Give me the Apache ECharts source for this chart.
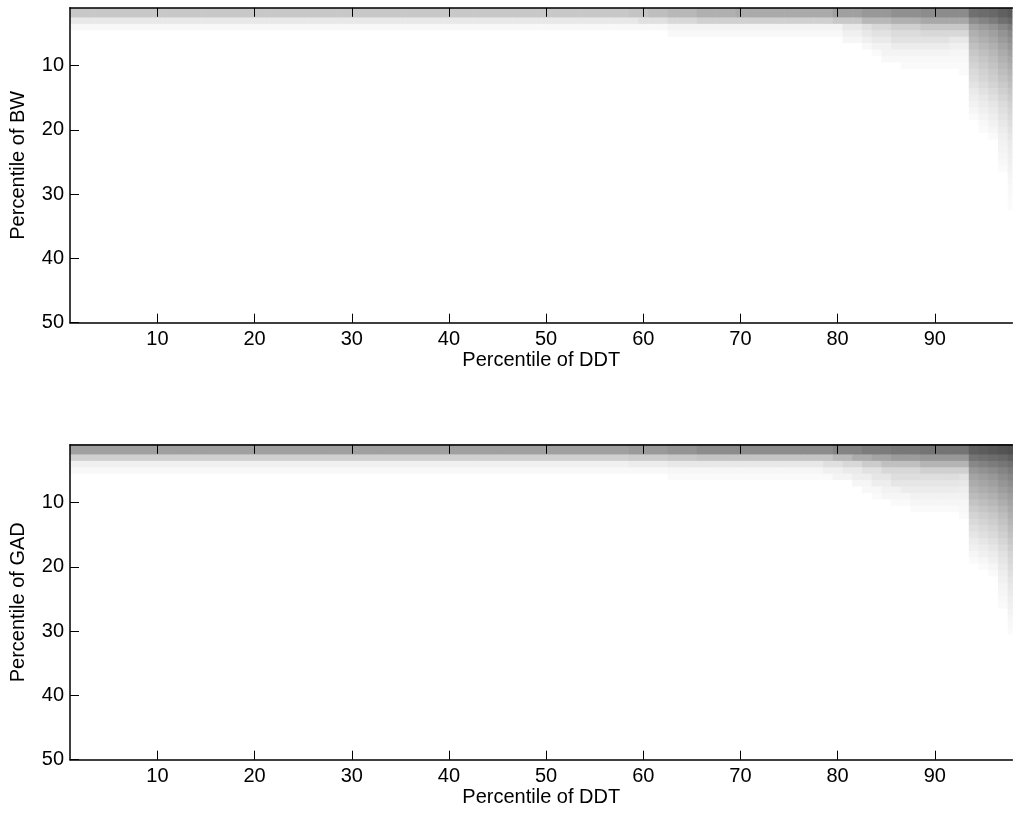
<!DOCTYPE html>
<html><head><meta charset="utf-8">
<script src="https://cdn.jsdelivr.net/npm/echarts@6/dist/echarts.min.js"></script>
<style>html,body{margin:0;padding:0;background:#fff}#c{width:1013px;height:815px}</style>
</head><body><div id="c"></div>
<script>
// axis layout data
const xTicks = [10, 20, 30, 40, 50, 60, 70, 80, 90];
const yTicks = [10, 20, 30, 40, 50];
const xCount = 98;   // percentile of DDT, 1..98
const yCount = 50;   // percentile of BW / GAD, 1..50
const xName = 'Percentile of DDT';
const yNames = ['Percentile of BW', 'Percentile of GAD'];

// gray level per cell (255 = white). Blocks: [rowFrom, rowTo, colFrom, colTo, gray]
const bwBlocks = [
  [1,2,1,58,200],[1,2,59,60,196],[1,2,61,62,190],[1,2,63,65,184],[1,2,66,69,176],[1,2,70,79,170],[1,2,80,82,160],[1,2,83,85,152],[1,2,86,88,144],[1,2,89,93,140],
  [3,3,1,59,232],[3,3,60,62,224],[3,3,63,65,216],[3,3,66,79,208],[3,3,80,82,200],[3,3,83,85,184],[3,3,86,88,176],[3,3,89,93,168],
  [4,4,1,62,248],[4,4,63,80,243],[4,4,81,82,232],[4,4,83,83,224],[4,4,84,85,216],[4,4,86,88,208],[4,4,89,93,200],
  [5,5,63,80,248],[5,5,81,82,240],[5,5,83,83,232],[5,5,84,85,226],[5,5,86,88,220],[5,5,89,93,216],
  [6,6,81,82,246],[6,6,83,83,240],[6,6,84,85,234],[6,6,86,91,226],[6,6,92,93,232],
  [7,7,83,83,248],[7,7,84,85,242],[7,7,86,91,236],[7,7,92,93,240],
  [8,8,84,84,250],[8,8,85,91,244],[8,8,92,93,246],
  [9,9,85,93,248],
  [10,10,87,93,250],
  [11,11,93,93,250]
];
// right-hand columns 94..98, values from row 1 downward
const bwCol94 = [112,112,140,164,176,184,192,200,206,212,218,222,228,234,238,242,246,250];
const bwCol95 = [108,108,132,156,168,176,184,192,198,204,210,214,220,226,232,236,240,244,248,250];
const bwCol96 = [104,104,124,148,160,168,176,184,190,196,202,206,212,218,224,230,234,238,242,246,250];
const bwCol97 = [96,96,112,136,148,156,164,172,178,184,190,196,202,208,214,220,224,228,232,236,240,242,244,246,248,250];
const bwCol98 = [90,90,104,124,136,144,152,160,168,174,180,186,192,198,204,210,214,218,222,226,230,234,236,238,240,242,244,246,248,249,250,251];

const gadBlocks = [
  [1,2,1,58,160],[1,2,59,62,154],[1,2,63,65,148],[1,2,66,79,140],[1,2,80,82,132],[1,2,83,85,124],[1,2,86,88,120],[1,2,89,93,116],
  [3,3,1,58,208],[3,3,59,62,204],[3,3,63,65,200],[3,3,66,79,196],[3,3,80,81,184],[3,3,82,83,172],[3,3,84,85,164],[3,3,86,88,156],[3,3,89,93,152],
  [4,4,1,58,240],[4,4,59,62,236],[4,4,63,78,232],[4,4,79,80,224],[4,4,81,82,216],[4,4,83,84,204],[4,4,85,88,192],[4,4,89,93,180],
  [5,5,1,62,248],[5,5,63,78,246],[5,5,79,80,240],[5,5,81,82,234],[5,5,83,84,226],[5,5,85,88,216],[5,5,89,93,208],
  [6,6,63,79,250],[6,6,80,81,244],[6,6,82,83,238],[6,6,84,85,230],[6,6,86,92,222],[6,6,93,93,226],
  [7,7,82,83,246],[7,7,84,85,238],[7,7,86,92,230],[7,7,93,93,232],
  [8,8,83,84,248],[8,8,85,86,242],[8,8,87,92,236],[8,8,93,93,238],
  [9,9,84,84,250],[9,9,85,87,246],[9,9,88,93,242],
  [10,10,86,87,250],[10,10,88,93,246],
  [11,11,88,92,250],[11,11,93,93,248],
  [12,12,93,93,250]
];
const gadCol94 = [96,96,116,136,152,164,172,180,188,196,204,212,218,224,230,236,240,246,250];
const gadCol95 = [92,92,112,130,146,158,166,174,182,190,198,206,212,218,224,230,236,240,246,250];
const gadCol96 = [88,88,108,124,140,152,160,168,176,184,192,200,206,212,218,224,230,236,240,246,250];
const gadCol97 = [84,84,104,118,132,142,150,158,166,174,182,190,196,202,208,214,220,226,230,234,238,241,244,246,248,250];
const gadCol98 = [80,80,96,112,124,134,142,150,158,164,170,176,182,188,194,200,206,212,216,220,224,228,232,235,238,240,243,246,248,250];

function buildCells(blocks, cols, firstCol) {
  const g = [];
  for (let r = 1; r <= yCount; r++) { g[r] = []; for (let c = 1; c <= xCount; c++) g[r][c] = 255; }
  blocks.forEach(b => { for (let r = b[0]; r <= b[1]; r++) for (let c = b[2]; c <= b[3]; c++) g[r][c] = b[4]; });
  cols.forEach((arr, i) => { arr.forEach((v, k) => { g[k + 1][firstCol + i] = v; }); });
  const out = [];
  for (let r = 1; r <= yCount; r++) for (let c = 1; c <= xCount; c++) out.push([c, r, g[r][c]]);
  return out;
}
const bwCells = buildCells(bwBlocks, [bwCol94, bwCol95, bwCol96, bwCol97, bwCol98], 94);
const gadCells = buildCells(gadBlocks, [gadCol94, gadCol95, gadCol96, gadCol97, gadCol98], 94);

const FONT = 'Liberation Sans, Arial, Helvetica, sans-serif';
const grids = [
  {left: 70, top: 7.8, width: 942.5, height: 314.9},
  {left: 70, top: 444.8, width: 942.5, height: 314.9}
];

function renderCell(params, api) {
  const x = api.value(0), y = api.value(1);
  const p0 = api.coord([x - 0.5, y - 0.5]);
  const p1 = api.coord([x + 0.5, y + 0.5]);
  const cs = params.coordSys;
  const rect = echarts.graphic.clipRectByRect({
    x: Math.min(p0[0], p1[0]), y: Math.min(p0[1], p1[1]),
    width: Math.abs(p1[0] - p0[0]) + 0.6, height: Math.abs(p1[1] - p0[1]) + 0.6
  }, {x: cs.x, y: cs.y, width: cs.width, height: cs.height});
  if (!rect) return null;
  return {type: 'rect', shape: rect, style: {fill: api.visual('color')}};
}

const xAxes = [], yAxes = [], series = [];
[0, 1].forEach(i => {
  xAxes.push({
    gridIndex: i, type: 'value', min: 1, max: xCount, position: 'bottom', z: 5,
    name: xName, nameLocation: 'middle', nameGap: 28,
    nameTextStyle: {fontSize: 20, color: '#000', fontFamily: FONT},
    axisLine: {show: true, onZero: false, lineStyle: {color: '#000', width: 1.5}},
    axisTick: {show: true, inside: true, length: 9, customValues: xTicks, lineStyle: {color: '#000', width: 1}},
    axisLabel: {customValues: xTicks, fontSize: 20, color: '#000', fontFamily: FONT, margin: 7},
    splitLine: {show: false}
  });
  xAxes.push({
    gridIndex: i, type: 'value', min: 1, max: xCount, position: 'top', z: 5,
    axisLine: {show: true, onZero: false, lineStyle: {color: '#000', width: 1.5}},
    axisTick: {show: true, inside: true, length: 9, customValues: xTicks, lineStyle: {color: '#000', width: 1}},
    axisLabel: {show: false},
    splitLine: {show: false}
  });
  yAxes.push({
    gridIndex: i, type: 'value', min: 1, max: yCount, inverse: true, position: 'left', z: 5,
    name: yNames[i], nameLocation: 'middle', nameGap: 42, nameRotate: 90,
    nameTextStyle: {fontSize: 20, color: '#000', fontFamily: FONT},
    axisLine: {show: true, onZero: false, lineStyle: {color: '#000', width: 1.5}},
    axisTick: {show: true, inside: true, length: 9, customValues: yTicks, lineStyle: {color: '#000', width: 1}},
    axisLabel: {customValues: yTicks, fontSize: 20, color: '#000', fontFamily: FONT, margin: 6},
    splitLine: {show: false}
  });
  series.push({
    type: 'custom', xAxisIndex: i * 2, yAxisIndex: i, renderItem: renderCell,
    encode: {x: 0, y: 1}, data: i === 0 ? bwCells : gadCells, z: 2, silent: true
  });
});

const chart = echarts.init(document.getElementById('c'), null, {renderer: 'canvas'});
chart.setOption({
  animation: false,
  backgroundColor: '#fff',
  grid: grids,
  xAxis: xAxes,
  yAxis: yAxes,
  visualMap: [{type: 'continuous', show: false, seriesIndex: [0, 1], dimension: 2, min: 0, max: 255,
    inRange: {color: ['#000000', '#ffffff']}}],
  series: series
});
</script></body></html>
